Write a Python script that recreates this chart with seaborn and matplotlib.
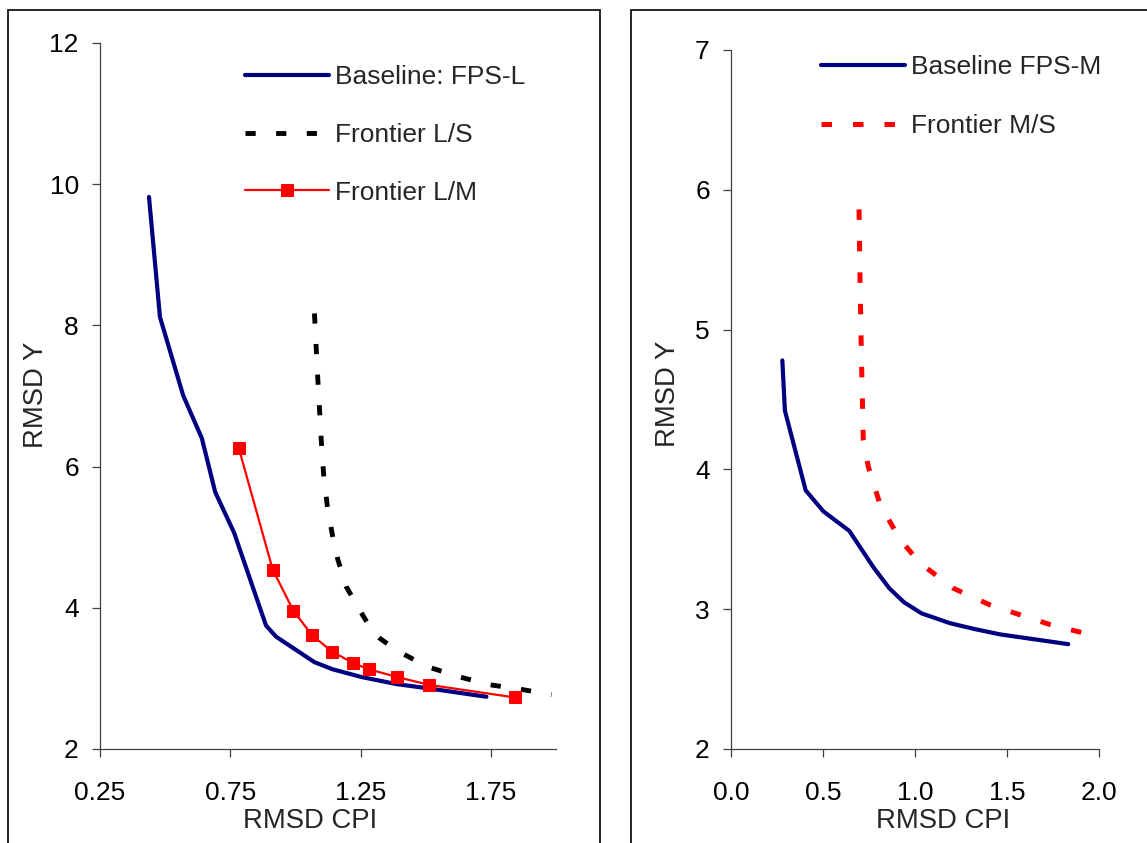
import numpy as np
import pandas as pd
import matplotlib
matplotlib.use("Agg")
import matplotlib.pyplot as plt
import seaborn as sns
from matplotlib.patches import Rectangle

# left panel: FPS-L
bl_x = [0.438, 0.480, 0.569, 0.641, 0.692, 0.765, 0.887, 0.926, 1.073, 1.142, 1.253, 1.387, 1.527, 1.733]
bl_y = [9.82, 8.12, 7.01, 6.40, 5.64, 5.06, 3.75, 3.59, 3.23, 3.13, 3.02, 2.92, 2.85, 2.74]
ls_x = [1.073, 1.086, 1.099, 1.108, 1.124, 1.143, 1.163, 1.195, 1.246, 1.297, 1.323, 1.387, 1.503, 1.631, 1.746, 1.874, 1.983]
ls_y = [8.17, 7.23, 6.38, 5.90, 5.39, 5.01, 4.68, 4.30, 3.97, 3.66, 3.57, 3.40, 3.17, 3.02, 2.91, 2.84, 2.77]
lm_x = [0.782, 0.913, 0.992, 1.064, 1.141, 1.220, 1.281, 1.390, 1.511, 1.842]
lm_y = [6.27, 4.54, 3.96, 3.61, 3.38, 3.22, 3.13, 3.02, 2.91, 2.73]

# right panel: FPS-M
bm_x = [0.279, 0.293, 0.406, 0.502, 0.643, 0.774, 0.860, 0.940, 1.036, 1.190, 1.317, 1.462, 1.833]
bm_y = [4.78, 4.42, 3.85, 3.70, 3.56, 3.30, 3.15, 3.05, 2.97, 2.90, 2.86, 2.82, 2.75]
ms_x = [0.696, 0.701, 0.710, 0.719, 0.746, 0.810, 0.918, 1.027, 1.208, 1.408, 1.571, 1.734, 1.915]
ms_y = [5.86, 5.37, 4.73, 4.21, 4.02, 3.75, 3.50, 3.33, 3.15, 3.03, 2.96, 2.89, 2.83]

left_xticks = [0.25, 0.75, 1.25, 1.75]
left_yticks = [2, 4, 6, 8, 10, 12]
right_xticks = [0.0, 0.5, 1.0, 1.5, 2.0]
right_yticks = [2, 3, 4, 5, 6, 7]

sns.set_style("white")
plt.rcParams["font.family"] = ["Liberation Sans", "DejaVu Sans"]
plt.rcParams["font.size"] = 19

W, H = 1147, 843
fig = plt.figure(figsize=(W / 100, H / 100), dpi=100)

NAVY, RED = "#000080", "#FF0000"
AXC = "#404040"
DASH = (2.1, 4.2)
FS_TICK, FS_LAB = 19, 19.8

# panel frames
for x0, x1 in [(8, 600), (631, 1160)]:
    fig.patches.append(Rectangle((x0 / W, -0.05), (x1 - x0) / W, 0.05 + (H - 10) / H,
                                 transform=fig.transFigure, fill=False,
                                 edgecolor="black", lw=1.2))

axL = fig.add_axes([100 / W, (H - 749) / H, 456 / W, 706 / H])
axR = fig.add_axes([731 / W, (H - 749) / H, 368 / W, 699 / H])

sns.lineplot(x=bl_x, y=bl_y, ax=axL, color=NAVY, lw=3, sort=False,
             estimator=None, label="Baseline: FPS-L")
sns.lineplot(x=ls_x, y=ls_y, ax=axL, color="black", lw=3.5, sort=False,
             estimator=None, label="Frontier L/S")
axL.lines[-1].set_dashes(DASH)
sns.lineplot(x=lm_x, y=lm_y, ax=axL, color=RED, lw=1.6, sort=False,
             estimator=None, marker="s", markersize=9, markeredgecolor=RED,
             label="Frontier L/M")

sns.lineplot(x=bm_x, y=bm_y, ax=axR, color=NAVY, lw=3, sort=False,
             estimator=None, label="Baseline FPS-M")
sns.lineplot(x=ms_x, y=ms_y, ax=axR, color=RED, lw=3.6, sort=False,
             estimator=None, label="Frontier M/S")
axR.lines[-1].set_dashes(DASH)

setups = [
    (axL, (0.25, 2.0), (2, 12), left_xticks, left_yticks, ["0.25", "0.75", "1.25", "1.75"],
     (245, 65, 1.28), (-0.125, 0.5014), (0.4605, -0.1119)),
    (axR, (0.0, 2.0), (2, 7), right_xticks, right_yticks, ["0.0", "0.5", "1.0", "1.5", "2.0"],
     (821, 55, 1.33), (-0.152, 0.508), (0.576, -0.113)),
]
for ax, xl, yl, xt, yt, xtl, leg, ylab, xlab in setups:
    ax.set_xlim(*xl)
    ax.set_ylim(*yl)
    ax.set_xticks(xt)
    ax.set_xticklabels(xtl)
    ax.set_yticks(yt)
    ax.set_yticklabels([str(v) for v in yt])
    for s in ["top", "right"]:
        ax.spines[s].set_visible(False)
    for s in ["left", "bottom"]:
        ax.spines[s].set_color(AXC)
        ax.spines[s].set_linewidth(0.9)
    ax.tick_params(axis="both", direction="out", length=5.8, width=0.9, color=AXC,
                   labelcolor="black", labelsize=FS_TICK, bottom=True, left=True)
    ax.tick_params(axis="x", pad=17.5)
    ax.tick_params(axis="y", pad=9.5)
    ax.set_xlabel("RMSD CPI", fontsize=FS_LAB)
    ax.set_ylabel("RMSD Y", fontsize=FS_LAB)
    ax.xaxis.label.set_va("baseline")
    ax.yaxis.label.set_va("baseline")
    ax.xaxis.set_label_coords(*xlab)
    ax.yaxis.set_label_coords(*ylab)
    ax.patch.set_alpha(0)
    ax.legend(loc="upper left", bbox_to_anchor=(leg[0] / W, 1 - leg[1] / H),
              bbox_transform=fig.transFigure, frameon=False, borderpad=0,
              borderaxespad=0, handlelength=3.2, handletextpad=0.22,
              labelspacing=leg[2], fontsize=FS_TICK, numpoints=1)

fig.savefig("out.png", dpi=100)
